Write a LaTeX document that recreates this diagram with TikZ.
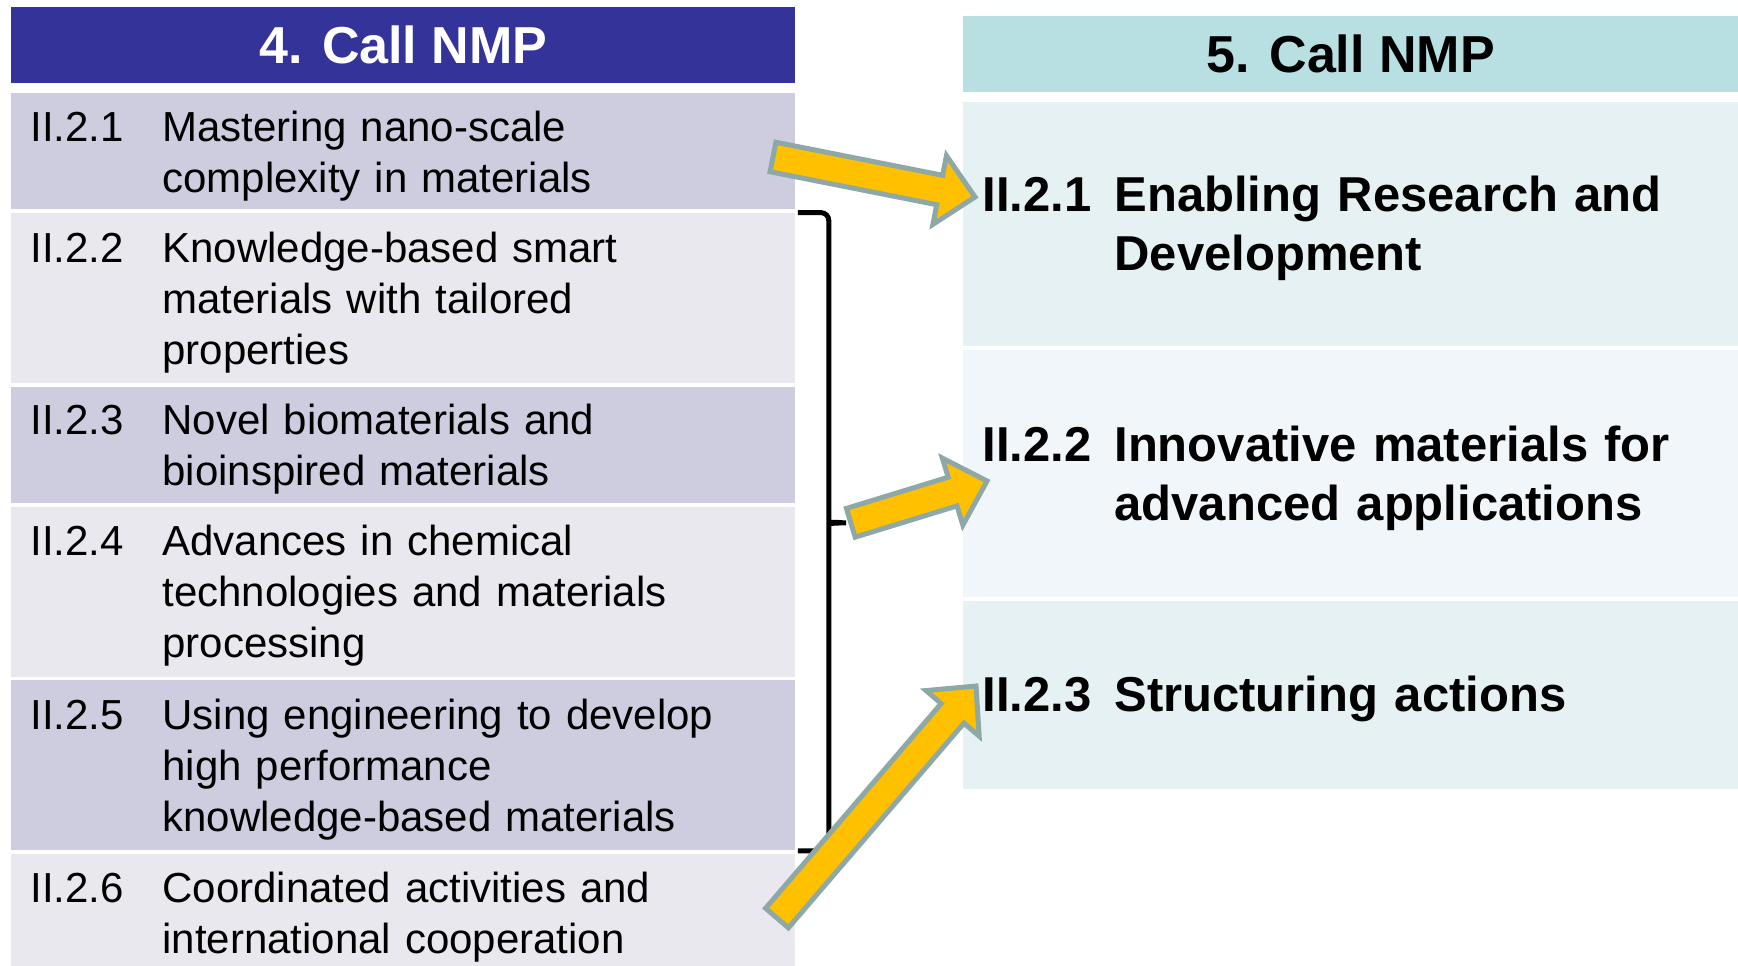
\documentclass[tikz,border=0pt]{standalone}
\usepackage{fontspec}
\setmainfont{Liberation Sans}
\usetikzlibrary{positioning,calc}

\definecolor{hdrblue}{HTML}{333399}
\definecolor{rowdark}{HTML}{CDCDDF}
\definecolor{rowlight}{HTML}{E8E8EE}
\definecolor{hdrteal}{HTML}{B8DFE2}
\definecolor{rowteal}{HTML}{E5F1F3}
\definecolor{rowpale}{HTML}{F0F6F9}
\definecolor{arrfill}{HTML}{FFC000}
\definecolor{arrline}{HTML}{8EA8A8}

% code + wrapped title, pushed a little below the centre
\newcommand{\itm}[2]{\raisebox{4.5pt}{\vphantom{l}}\makebox[66pt][l]{#1}\parbox[t]{320pt}{\raggedright #2}}

% block arrow from #1 to #2
\newcommand{\blockarrow}[2]{%
  \coordinate (hb) at ($(#2)!18pt!(#1)$);
  \draw[blockarr] ($(#1)!7.5pt!90:(#2)$) -- ($(hb)!7.5pt!90:(#2)$)
    -- ($(hb)!17.5pt!90:(#2)$) -- (#2) -- ($(hb)!17.5pt!-90:(#2)$)
    -- ($(hb)!7.5pt!-90:(#2)$) -- ($(#1)!7.5pt!-90:(#2)$) -- cycle;}

\tikzset{
  hdr/.style={inner sep=0pt, minimum height=38pt},
  lhdr/.style={hdr, fill=hdrblue, text=white, minimum width=392pt,
    font=\bfseries\fontsize{26}{28}\selectfont},
  rhdr/.style={hdr, fill=hdrteal, minimum width=387.5pt,
    font=\bfseries\fontsize{26}{28}\selectfont},
  lrow/.style={inner xsep=9.5pt, inner ysep=0pt, text width=373pt, align=left,
    font=\fontsize{21}{25.5}\selectfont},
  ldark/.style={lrow, fill=rowdark},
  llight/.style={lrow, fill=rowlight},
  rrow/.style={inner xsep=9.5pt, inner ysep=0pt, text width=368.5pt, align=left,
    font=\bfseries\fontsize{24.5}{29.5}\selectfont},
  bracket/.style={line width=2.5pt, rounded corners=4pt},
  blockarr/.style={fill=arrfill, draw=arrline, line width=2.5pt, line join=miter}
}

\begin{document}
\begin{tikzpicture}[x=0.5pt, y=-0.5pt]
  \useasboundingbox (0,0) rectangle (1738,965);

  % old call
  \node[lhdr, anchor=north west] (lhead) at (11,7) {4. Call NMP};
  \node[ldark, minimum height=58pt, below=4.5pt of lhead] (l1)
    {\itm{II.2.1}{Mastering nano-scale\\complexity in materials}};
  \node[llight, minimum height=85pt, below=1.5pt of l1] (l2)
    {\itm{II.2.2}{Knowledge-based smart\\materials with tailored\\properties}};
  \node[ldark, minimum height=58pt, below=1.5pt of l2] (l3)
    {\itm{II.2.3}{Novel biomaterials and\\bioinspired materials}};
  \node[llight, minimum height=85pt, below=1.5pt of l3] (l4)
    {\itm{II.2.4}{Advances in chemical\\technologies and materials\\processing}};
  \node[ldark, minimum height=85pt, below=1.5pt of l4] (l5)
    {\itm{II.2.5}{Using engineering to develop\\high performance\\knowledge-based materials}};
  \node[llight, minimum height=58pt, below=1.5pt of l5] (l6)
    {\itm{II.2.6}{Coordinated activities and\\international cooperation}};

  % new call
  \node[rhdr, anchor=north west] (rhead) at (963,16) {5. Call NMP};
  \node[rrow, fill=rowteal, minimum height=122pt, below=4.5pt of rhead] (r1)
    {\itm{II.2.1}{Enabling Research and\\Development}};
  \node[rrow, fill=rowpale, minimum height=123.5pt, below=1.5pt of r1] (r2)
    {\itm{II.2.2}{Innovative materials for\\advanced applications}};
  \node[rrow, fill=rowteal, minimum height=94pt, below=1.5pt of r2] (r3)
    {\itm{II.2.3}{Structuring actions}};

  % bracket over II.2.2 -- II.2.5
  \coordinate (brtop) at ([xshift=1pt]l2.north east);
  \coordinate (brbot) at ([xshift=1pt]l5.south east);
  \coordinate (brtip) at ($(brtop)!0.486!(brbot)+(26.5pt,0)$);
  \draw[bracket] (brtop) -| ([xshift=-11pt,yshift=4pt]brtip)
    to[out=-90,in=180] (brtip) to[out=180,in=90] ([xshift=-11pt,yshift=-4pt]brtip)
    |- (brbot);

  % arrows
  \coordinate (a1s) at (773,157);
  \coordinate (a1e) at (975,197);
  \coordinate (a2e) at (987,481);
  \coordinate (a3s) at (777,918);
  \coordinate (a3e) at (976,686);
  \blockarrow{a1s}{a1e}
  \blockarrow{brtip}{a2e}
  \blockarrow{a3s}{a3e}
\end{tikzpicture}
\end{document}
